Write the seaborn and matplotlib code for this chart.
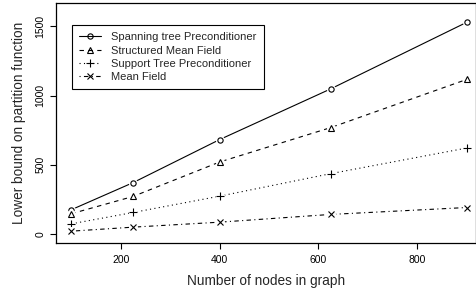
import numpy as np
import pandas as pd
import matplotlib
matplotlib.use('Agg')
import matplotlib.pyplot as plt
from matplotlib.lines import Line2D
import seaborn as sns

# data
nodes = [100, 225, 400, 625, 900]
spanning_tree = [174, 370, 681, 1048, 1529]
structured_mf = [145, 270, 519, 768, 1116]
support_tree = [72, 154, 272, 435, 620]
mean_field = [19, 48, 84, 140, 190]

labels = ['Spanning tree Preconditioner', 'Structured Mean Field',
          'Support Tree Preconditioner', 'Mean Field']
series = [spanning_tree, structured_mf, support_tree, mean_field]

sns.set_style('ticks')
plt.rcParams['font.family'] = ['Liberation Sans', 'DejaVu Sans']

# R style line types / point characters
dashes = [(None, None), (4, 4), (1, 3), (1, 3, 4, 3)]
markers = ['o', '^', '+', 'x']
msizes = [3.8, 4.2, 5.5, 4]

fig = plt.figure(figsize=(4.77, 2.92), dpi=100)
ax = fig.add_axes([56 / 477, 49.5 / 292, 420 / 477, 239.5 / 292])

handles = []
for name, vals, d, m, s in zip(labels, series, dashes, markers, msizes):
    df = pd.DataFrame({'nodes': nodes, 'bound': vals})
    # line, with white discs to leave gaps round the points (R type="b")
    line_kws = dict(color='black', linewidth=0.8, marker='o', ms=6.5,
                    mfc='white', mec='white', mew=0)
    if d[0] is not None:
        line_kws['dashes'] = d
    sns.lineplot(data=df, x='nodes', y='bound', ax=ax, **line_kws)
    # the points
    sns.lineplot(data=df, x='nodes', y='bound', ax=ax, color='black',
                 linestyle='', marker=m, ms=s, mfc='none', mec='black', mew=0.8)
    h = Line2D([], [], color='black', linewidth=0.8, marker=m, ms=s,
               mfc='none', mec='black', mew=0.8)
    if d[0] is not None:
        h.set_dashes(d)
    handles.append(h)

ax.set_xlim(69, 919)
ax.set_ylim(-63, 1669)
ax.set_xticks([200, 400, 600, 800])
ax.set_yticks([0, 500, 1000, 1500])

for sp in ax.spines.values():
    sp.set_visible(True)
    sp.set_color('black')
    sp.set_linewidth(0.9)

ax.tick_params(axis='both', direction='out', length=4.3, width=0.8,
               color='black', labelsize=7.5, labelcolor='black')
ax.tick_params(axis='x', pad=5)
ax.tick_params(axis='y', pad=3.5)
for t in ax.get_yticklabels():
    t.set_rotation(90)
    t.set_va('center')

ax.set_xlabel('Number of nodes in graph', fontsize=9.8, labelpad=6)
ax.set_ylabel('Lower bound on partition function', fontsize=9.8, labelpad=6.5)

leg = ax.legend(handles, labels, loc='upper left',
                bbox_to_anchor=(0.037, 0.908), fontsize=8.0,
                frameon=True, fancybox=False, framealpha=1,
                edgecolor='black', handlelength=2.0, handletextpad=0.9,
                labelspacing=0.3, borderpad=0.65, borderaxespad=0)
leg.get_frame().set_linewidth(0.8)

fig.savefig('out.png', dpi=100)
